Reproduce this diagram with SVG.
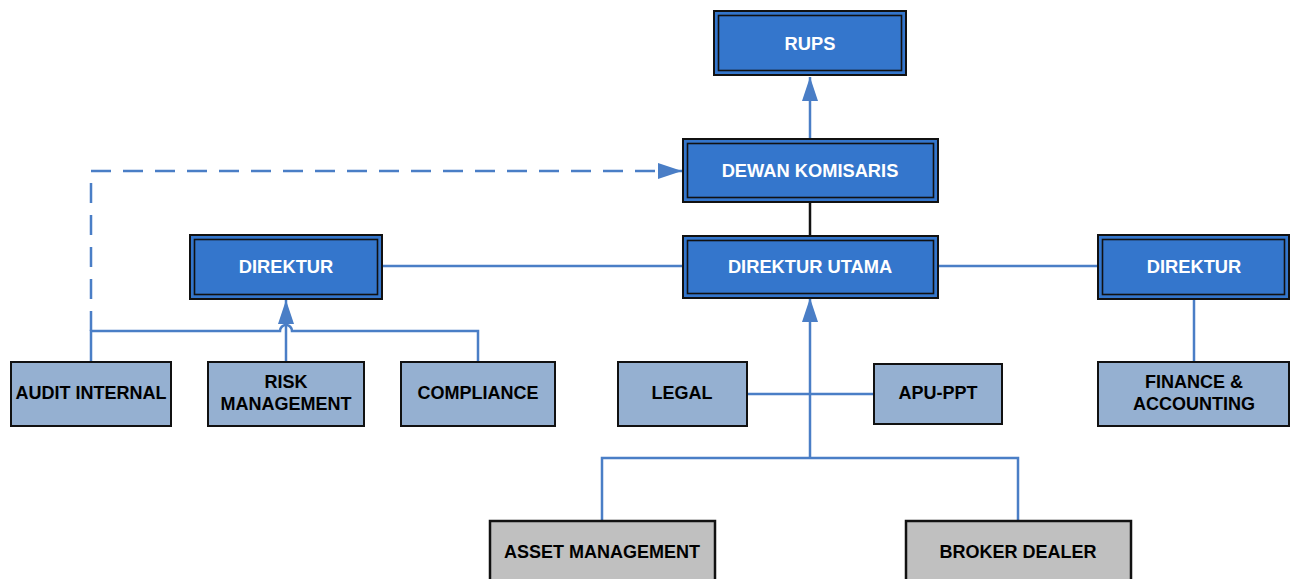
<svg xmlns="http://www.w3.org/2000/svg" width="1291" height="579" viewBox="0 0 1291 579">
<defs>
<style>
.dark rect.o{fill:#3476cc;stroke:#111;stroke-width:2}
.dark rect.i{fill:none;stroke:#111;stroke-width:1.6}
.light rect{fill:#95b0d1;stroke:#111;stroke-width:2}
.gray rect{fill:#c0c0c0;stroke:#111;stroke-width:2.5}
text{font-family:"Liberation Sans",Arial,sans-serif;font-weight:bold;font-size:18px;text-anchor:middle;dominant-baseline:central}
.dark text{fill:#fff;font-size:18.3px}
.light text,.gray text{fill:#000}
.c{fill:none;stroke:#4a7ec6;stroke-width:2.5}
.dash{stroke-dasharray:20 12}
</style>
<marker id="ah" viewBox="0 0 24 16" refX="24" refY="8" markerWidth="24" markerHeight="16" markerUnits="userSpaceOnUse" orient="auto">
<path d="M0,0 L24,8 L0,16 Z" fill="#4a7ec6"/>
</marker>
</defs>
<g id="connectors">
<path class="c" d="M810,139 V77" marker-end="url(#ah)"/>
<path d="M810,202 V236" fill="none" stroke="#111" stroke-width="2.5"/>
<path class="c" d="M382,266 H683"/>
<path class="c" d="M938,266 H1098"/>
<path class="c" d="M1194,299 V362"/>
<path class="c" d="M747,394 H874"/>
<path class="c" d="M602,521 V458 H1018 V521"/>
<path class="c" d="M810,458 V298" marker-end="url(#ah)"/>
<path class="c" d="M91,362 V331 H280 A6,6 0 0 1 292,331 H478 V362"/>
<path class="c" d="M286,362 V300" marker-end="url(#ah)"/>
<path class="c dash" d="M91,331 V171 H682" marker-end="url(#ah)"/>
</g>
<g id="rups" class="dark"><rect class="o" x="714" y="11" width="192" height="64"/><rect class="i" x="718.5" y="15.5" width="183" height="55"/><text x="810" y="43">RUPS</text></g>
<g id="dewan-komisaris" class="dark"><rect class="o" x="683" y="139" width="255" height="63"/><rect class="i" x="687.5" y="143.5" width="246" height="54"/><text x="810" y="170">DEWAN KOMISARIS</text></g>
<g id="direktur-utama" class="dark"><rect class="o" x="683" y="236" width="255" height="62"/><rect class="i" x="687.5" y="240.5" width="246" height="53"/><text x="810" y="266">DIREKTUR UTAMA</text></g>
<g id="direktur-left" class="dark"><rect class="o" x="190" y="235" width="192" height="64"/><rect class="i" x="194.5" y="239.5" width="183" height="55"/><text x="286" y="266">DIREKTUR</text></g>
<g id="direktur-right" class="dark"><rect class="o" x="1098" y="235" width="191" height="64"/><rect class="i" x="1102.5" y="239.5" width="182" height="55"/><text x="1194" y="266">DIREKTUR</text></g>
<g id="audit-internal" class="light"><rect x="11" y="362" width="160" height="64"/><text x="91" y="393">AUDIT INTERNAL</text></g>
<g id="risk-management" class="light"><rect x="208" y="362" width="156" height="64"/><text x="286" y="382">RISK</text><text x="286" y="404">MANAGEMENT</text></g>
<g id="compliance" class="light"><rect x="401" y="362" width="154" height="64"/><text x="478" y="393">COMPLIANCE</text></g>
<g id="legal" class="light"><rect x="618" y="362" width="129" height="64"/><text x="682" y="393">LEGAL</text></g>
<g id="apu-ppt" class="light"><rect x="874" y="364" width="128" height="60"/><text x="938" y="393">APU-PPT</text></g>
<g id="finance-accounting" class="light"><rect x="1098" y="362" width="191" height="64"/><text x="1194" y="382">FINANCE &amp;</text><text x="1194" y="404">ACCOUNTING</text></g>
<g id="asset-management" class="gray"><rect x="490" y="521" width="225" height="70"/><text x="602" y="552">ASSET MANAGEMENT</text></g>
<g id="broker-dealer" class="gray"><rect x="906" y="521" width="225" height="70"/><text x="1018" y="552">BROKER DEALER</text></g>
</svg>
